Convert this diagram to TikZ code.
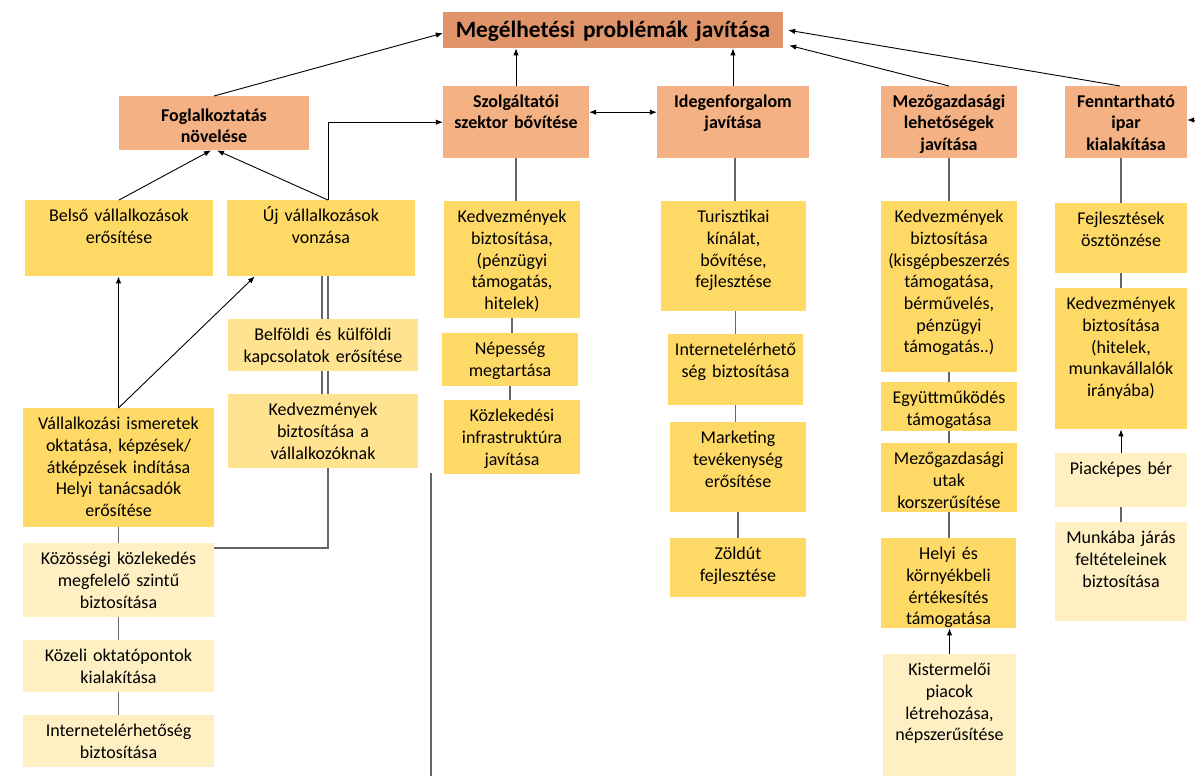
\documentclass[tikz,border=0pt]{standalone}
\usepackage{fontspec}
\setmainfont{Carlito}
\usetikzlibrary{positioning, arrows.meta, backgrounds}

\definecolor{goalor}{HTML}{E0946A}
\definecolor{hdror}{HTML}{F4B183}
\definecolor{ylw}{HTML}{FFD966}
\definecolor{ylwmid}{HTML}{FFE391}
\definecolor{ylwlt}{HTML}{FFF0C4}

\begin{document}
\begin{tikzpicture}[
    x=1pt, y=1pt,
    >={Latex[length=7pt,width=5.5pt]},
    cell/.style={
        rectangle, anchor=north, align=center,
        inner xsep=2pt, inner ysep=0pt, text height=21.5pt,
        font=\fontsize{18}{21.7}\selectfont
    },
    hdr/.style={cell, fill=hdror, font=\fontsize{18}{21.2}\selectfont\bfseries},
    ybox/.style={cell, fill=ylw},
    mbox/.style={cell, fill=ylwmid},
    lbox/.style={cell, fill=ylwlt},
    arr/.style={->, black, line width=0.9pt},
    conn/.style={black!60, line width=1.2pt},
]
\useasboundingbox (0,0) rectangle (1195,-776);

% Headline
\node[cell, fill=goalor, text width=336pt, text height=25pt, text depth=11pt,
      font=\fontsize{23.4}{26}\selectfont\bfseries] (goal) at (613,-12) {Megélhetési problémák javítása};

% Main goals
\node[hdr, text width=186pt, text height=25.5pt, text depth=28.5pt] (fog) at (214,-96) {Foglalkoztatás\\növelése};
\node[hdr, text width=142pt, text depth=50.5pt] (szolg) at (516,-86) {Szolgáltatói\\szektor bővítése};
\node[hdr, text width=148pt, text depth=50.5pt] (idegen) at (733,-86) {Idegenforgalom\\javítása};
\node[hdr, text width=132pt, text depth=50.5pt] (mezo) at (949,-86) {Mezőgazdasági\\lehetőségek\\javítása};
\node[hdr, text width=118pt, text depth=50.5pt] (ipar) at (1126,-86) {Fenntartható\\ipar\\kialakítása};

% Employment column
\node[ybox, text width=184pt, text depth=54.5pt] (belso) at (119,-200) {Belső vállalkozások\\erősítése};
\node[ybox, text width=184pt, text depth=54.5pt] (uj) at (321,-200) {Új vállalkozások\\vonzása};
\node[mbox, text width=186pt, text depth=30.5pt] (kapcs) at (323,-319) {Belföldi és külföldi\\kapcsolatok erősítése};
\node[mbox, text width=186pt, text depth=52.5pt] (kedvvall) at (323,-394) {Kedvezmények\\biztosítása a\\vállalkozóknak};
\node[ybox, text width=187pt, text depth=97.5pt] (oktat) at (118.5,-408) {Vállalkozási ismeretek\\oktatása, képzések/\\átképzések indítása\\Helyi tanácsadók\\erősítése};
\node[lbox, text width=187pt, text depth=52.5pt] (kozlek) at (118.5,-543) {Közösségi közlekedés\\megfelelő szintű\\biztosítása};
\node[lbox, text width=187pt, text depth=30.5pt] (kozeli) at (118.5,-640) {Közeli oktatópontok\\kialakítása};
\node[lbox, text width=187pt, text depth=30.5pt] (netbal) at (118.5,-715) {Internetelérhetőség\\biztosítása};

% Services column
\node[ybox, text width=132pt, text depth=95.5pt] (kedvszolg) at (512,-201) {Kedvezmények\\biztosítása,\\(pénzügyi\\támogatás,\\hitelek)};
\node[ybox, text width=132pt, text depth=31.5pt] (nepes) at (510,-333) {Népesség\\megtartása};
\node[ybox, text width=132pt, text depth=52.5pt] (infra) at (512,-400) {Közlekedési\\infrastruktúra\\javítása};

% Tourism column
\node[ybox, text width=141pt, text depth=88.5pt] (kinalat) at (733.5,-201) {Turisztikai\\kínálat,\\bővítése,\\fejlesztése};
\node[ybox, text width=131pt, text depth=49.5pt] (netturi) at (735.5,-334) {Internetelérhető\\ség biztosítása};
\node[ybox, text width=132pt, text depth=68.5pt] (market) at (738,-422) {Marketing\\tevékenység\\erősítése};
\node[ybox, text width=132pt, text depth=37.5pt] (zoldut) at (738,-538) {Zöldút\\fejlesztése};

% Agriculture column
\node[ybox, text width=132pt, text depth=149.5pt] (kedvmezo) at (949,-201) {Kedvezmények\\biztosítása\\(kisgépbeszerzés\\támogatása,\\bérművelés,\\pénzügyi\\támogatás..)};
\node[ybox, text width=132pt, text depth=27.5pt] (egyutt) at (949,-382) {Együttműködés\\támogatása};
\node[ybox, text width=132pt, text depth=47.5pt] (utak) at (949,-443) {Mezőgazdasági\\utak\\korszerűsítése};
\node[ybox, text width=131pt, text depth=68.5pt] (ertek) at (948.5,-538) {Helyi és\\környékbeli\\értékesítés\\támogatása};
\node[lbox, text width=129pt, text depth=100.5pt] (piacok) at (949.5,-654) {Kistermelői\\piacok\\létrehozása,\\népszerűsítése};

% Industry column
\node[ybox, text width=128pt, text depth=48.5pt] (fejl) at (1121,-203) {Fejlesztések\\ösztönzése};
\node[ybox, text width=128pt, text depth=119.5pt] (kedvipar) at (1121,-288) {Kedvezmények\\biztosítása\\(hitelek,\\munkavállalók\\irányába)};
\node[lbox, text width=128pt, text depth=32.5pt] (ber) at (1121,-453) {Piacképes bér};
\node[lbox, text width=128pt, text depth=77.5pt] (munka) at (1121,-522) {Munkába járás\\feltételeinek\\biztosítása};

% Arrows into the headline
\draw[arr] (fog.north) -- ([yshift=-3pt]goal.west);
\draw[arr] (szolg.north) -- (szolg.north |- goal.south);
\draw[arr] (idegen.north) -- (idegen.north |- goal.south);
\draw[arr] (mezo.north) -- ([xshift=6pt,yshift=3pt]goal.south east);
\draw[arr] ([xshift=-6pt]ipar.north) -- ([xshift=5pt]goal.east);

% Free ends
\coordinate (edge) at (1195,-120);
\coordinate (vtop) at (431,-473);
\coordinate (vbot) at (431,-776);
\draw[arr] (edge) -- (edge -| ipar.east);
\draw[conn] (vtop) -- (vbot);

% Links between main goals
\draw[arr, <->] ([yshift=10pt]szolg.east) -- ([yshift=10pt]szolg.east -| idegen.west);
\draw[arr] ([xshift=7pt]uj.north) |- (szolg.west);

% Employment arrows
\draw[arr] (belso.north) -- ([xshift=-3pt]fog.south);
\draw[arr] ([xshift=7pt]uj.north) -- ([xshift=3pt]fog.south);
\draw[arr] (oktat.north) -- (oktat.north |- belso.south);
\draw[arr] (oktat.north) -- ([xshift=28pt]uj.south west);
% double line passes behind the two light boxes
\begin{scope}[on background layer]
\draw[conn] ([xshift=1pt]uj.south) -- ([xshift=1pt]uj.south |- kedvvall.north);
\draw[conn] ([yshift=-5pt]kozlek.north east) -| ([xshift=7pt]uj.south);
\end{scope}
\draw[conn] (oktat.south) -- (oktat.south |- kozlek.north);
\draw[conn] (kozlek.south) -- (kozeli.north);
\draw[conn] (kozeli.south) -- (netbal.north);

% Services lines
\draw[conn] (szolg.south) -- (szolg.south |- kedvszolg.north);
\draw[conn] (kedvszolg.south) -- (kedvszolg.south |- nepes.north);
\draw[conn] (nepes.south) -- (nepes.south |- infra.north);

% Tourism lines
\draw[conn] ([xshift=2pt]idegen.south) -- ([xshift=2pt]idegen.south |- kinalat.north);
\draw[conn] ([xshift=2pt]kinalat.south) -- ([xshift=2pt]kinalat.south |- netturi.north);
\draw[conn] (netturi.south) -- (netturi.south |- market.north);
\draw[conn] (market.south) -- (zoldut.north);

% Agriculture lines
\draw[conn] (mezo.south) -- (kedvmezo.north);
\draw[conn] (kedvmezo.south) -- (egyutt.north);
\draw[conn] (egyutt.south) -- (utak.north);
\draw[conn] (utak.south) -- (utak.south |- ertek.north);
\draw[arr] (piacok.north) -- (piacok.north |- ertek.south);

% Industry lines
\draw[conn] (fejl.north |- ipar.south) -- (fejl.north);
\draw[conn] (fejl.south) -- (kedvipar.north);
\draw[arr] (ber.north) -- (kedvipar.south);
\draw[conn] (ber.south) -- (munka.north);

\end{tikzpicture}
\end{document}
